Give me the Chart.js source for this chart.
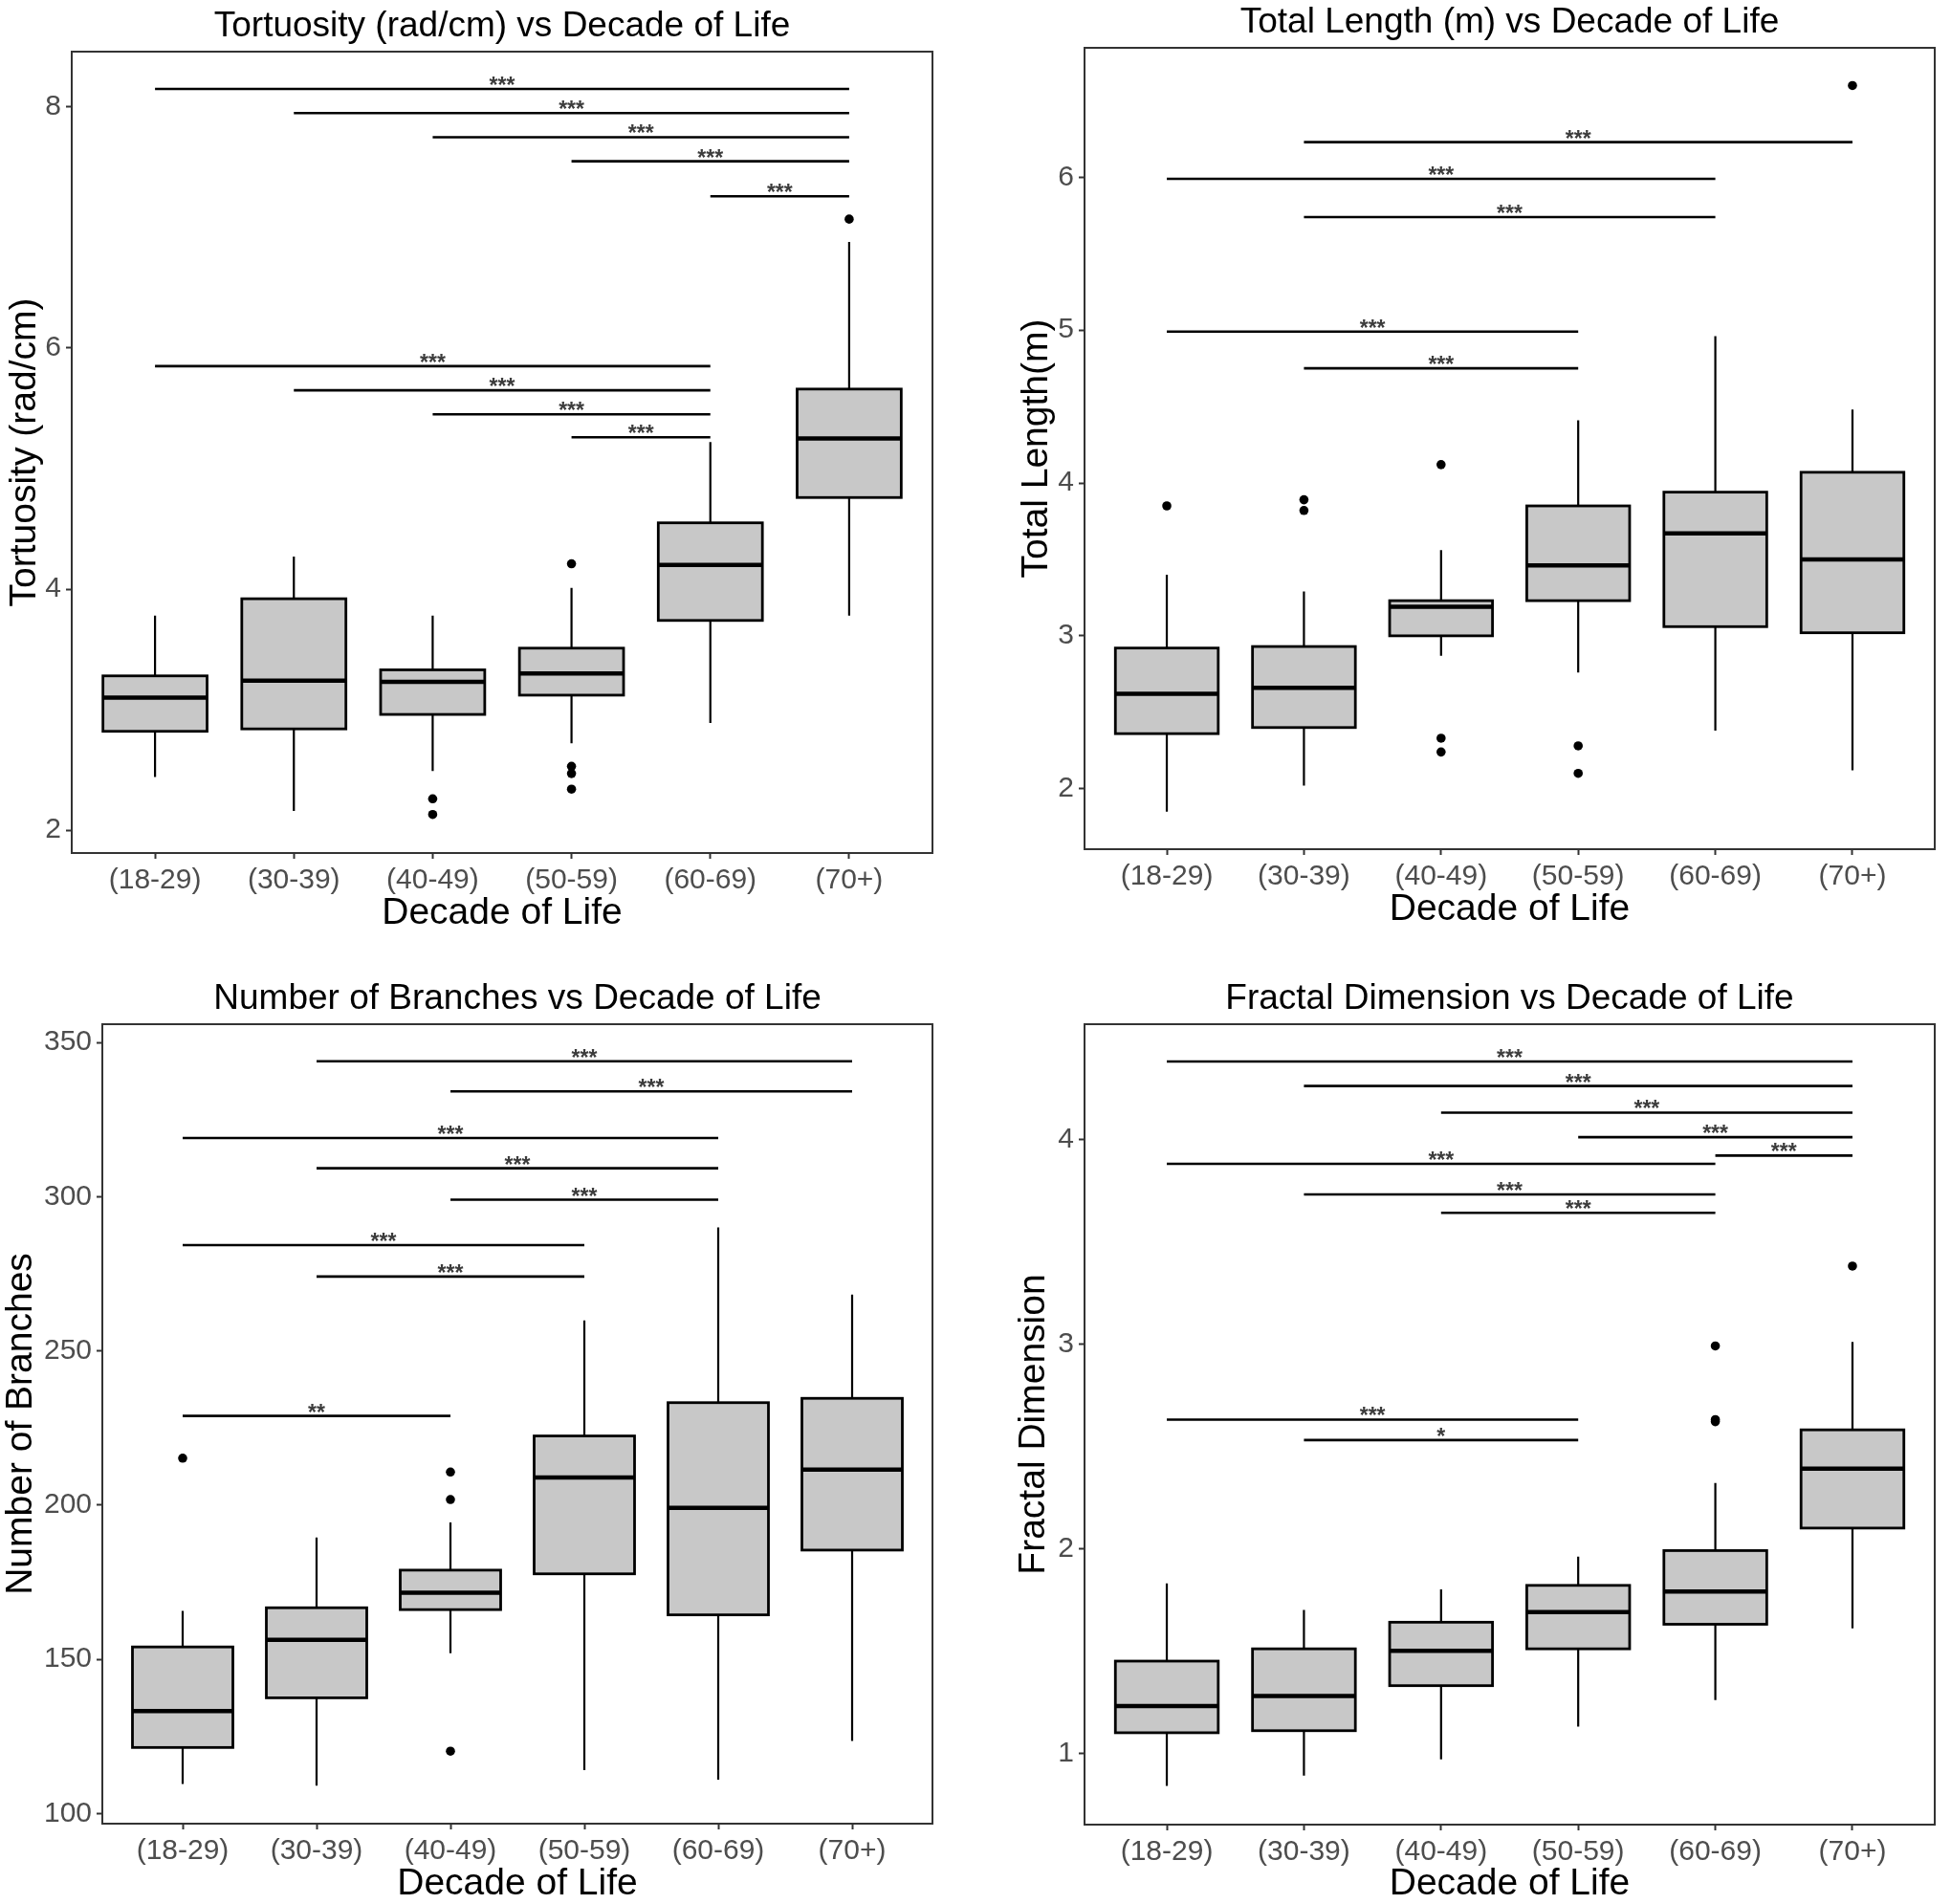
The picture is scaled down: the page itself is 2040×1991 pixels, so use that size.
<!DOCTYPE html>
<html>
<head>
<meta charset="utf-8">
<script src="https://cdn.jsdelivr.net/npm/chart.js"></script>
<style>
  html, body { margin: 0; padding: 0; background: #fff; }
  body { width: 2040px; height: 1991px; position: relative; overflow: hidden; }
  canvas { position: absolute; }
</style>
</head>
<body>
<canvas id="tort"></canvas>
<canvas id="len"></canvas>
<canvas id="branch"></canvas>
<canvas id="fractal"></canvas>
<script>
const decades = ['(18-29)', '(30-39)', '(40-49)', '(50-59)', '(60-69)', '(70+)'];

// Tortuosity (rad/cm)
const tortLow = [2.44, 2.16, 2.49, 2.72, 2.89, 3.78];
const tortQ1 = [2.82, 2.84, 2.96, 3.12, 3.74, 4.76];
const tortMed = [3.10, 3.24, 3.23, 3.30, 4.20, 5.25];
const tortQ3 = [3.28, 3.92, 3.33, 3.51, 4.55, 5.66];
const tortHigh = [3.78, 4.27, 3.78, 4.01, 5.22, 6.88];
const tortOut = [[], [], [2.26, 2.13], [4.21, 2.53, 2.47, 2.34], [], [7.07]];
const tortTicks = [2, 4, 6, 8];
const tortSig = [[0, 5, 8.15, '***'], [1, 5, 7.95, '***'], [2, 5, 7.75, '***'], [3, 5, 7.55, '***'], [4, 5, 7.26, '***'],
                 [0, 4, 5.85, '***'], [1, 4, 5.65, '***'], [2, 4, 5.45, '***'], [3, 4, 5.26, '***']];

// Total length (m)
const lenLow = [1.85, 2.02, 2.87, 2.76, 2.38, 2.12];
const lenQ1 = [2.36, 2.40, 3.00, 3.23, 3.06, 3.02];
const lenMed = [2.62, 2.66, 3.19, 3.46, 3.67, 3.50];
const lenQ3 = [2.92, 2.93, 3.23, 3.85, 3.94, 4.07];
const lenHigh = [3.40, 3.29, 3.56, 4.41, 4.96, 4.48];
const lenOut = [[3.85], [3.89, 3.82], [4.12, 2.33, 2.24], [2.28, 2.10], [], [6.60]];
const lenTicks = [2, 3, 4, 5, 6];
const lenSig = [[1, 5, 6.23, '***'], [0, 4, 5.99, '***'], [1, 4, 5.74, '***'], [0, 3, 4.99, '***'], [1, 3, 4.75, '***']];

// Number of branches
const brLow = [109.6, 109.0, 152.0, 114.1, 111.0, 123.5];
const brQ1 = [121.4, 137.5, 166.1, 177.7, 164.4, 185.4];
const brMed = [133.2, 156.3, 171.6, 208.9, 199.1, 211.5];
const brQ3 = [154.0, 166.7, 178.9, 222.4, 233.2, 234.6];
const brHigh = [165.7, 189.5, 194.4, 259.9, 290.0, 268.2];
const brOut = [[215.2], [], [210.7, 201.8, 120.2], [], [], []];
const brTicks = [100, 150, 200, 250, 300, 350];
const brSig = [[1, 5, 343.9, '***'], [2, 5, 334.1, '***'], [0, 4, 319.0, '***'], [1, 4, 309.2, '***'], [2, 4, 299.0, '***'],
               [0, 3, 284.3, '***'], [1, 3, 274.1, '***'], [0, 2, 228.9, '**']];

// Fractal dimension
const fdLow = [0.84, 0.89, 0.97, 1.13, 1.26, 1.61];
const fdQ1 = [1.10, 1.11, 1.33, 1.51, 1.63, 2.10];
const fdMed = [1.23, 1.28, 1.50, 1.69, 1.79, 2.39];
const fdQ3 = [1.45, 1.51, 1.64, 1.82, 1.99, 2.58];
const fdHigh = [1.83, 1.70, 1.80, 1.96, 2.32, 3.01];
const fdOut = [[], [], [], [], [2.99, 2.63, 2.62], [3.38]];
const fdTicks = [1, 2, 3, 4];
const fdSig = [[0, 5, 4.38, '***'], [1, 5, 4.26, '***'], [2, 5, 4.13, '***'], [3, 5, 4.01, '***'], [4, 5, 3.92, '***'],
               [0, 4, 3.88, '***'], [1, 4, 3.73, '***'], [2, 4, 3.64, '***'], [0, 3, 2.63, '***'], [1, 3, 2.53, '*']];

const FONT = "'Liberation Sans', Arial, sans-serif";

// draws the boxes, significance bars, frame and title using the chart's scales
const boxPlugin = {
    id: 'boxplot',
    beforeDatasetsDraw(chart) {
        const o = chart.options.plugins.boxplot;
        const xs = chart.scales.x, ys = chart.scales.y;
        const ctx = chart.ctx;
        const half = xs.getPixelForValue(0.375) - xs.getPixelForValue(0);
        ctx.save();
        for (let i = 0; i < o.median.length; i++) {
            const x = xs.getPixelForValue(i);
            const yLow = ys.getPixelForValue(o.low[i]);
            const yQ1 = ys.getPixelForValue(o.q1[i]);
            const yMed = ys.getPixelForValue(o.median[i]);
            const yQ3 = ys.getPixelForValue(o.q3[i]);
            const yHigh = ys.getPixelForValue(o.high[i]);
            ctx.strokeStyle = '#000';
            ctx.lineWidth = 2.2;
            ctx.beginPath();
            ctx.moveTo(x, yHigh); ctx.lineTo(x, yQ3);
            ctx.moveTo(x, yQ1); ctx.lineTo(x, yLow);
            ctx.stroke();
            ctx.fillStyle = '#c8c8c8';
            ctx.fillRect(x - half, yQ3, half * 2, yQ1 - yQ3);
            ctx.lineWidth = 2.8;
            ctx.strokeRect(x - half, yQ3, half * 2, yQ1 - yQ3);
            ctx.lineWidth = 4.5;
            ctx.beginPath();
            ctx.moveTo(x - half, yMed); ctx.lineTo(x + half, yMed);
            ctx.stroke();
        }
        ctx.restore();
    },
    afterDatasetsDraw(chart) {
        const o = chart.options.plugins.boxplot;
        const xs = chart.scales.x, ys = chart.scales.y;
        const ctx = chart.ctx;
        const a = chart.chartArea;
        ctx.save();
        ctx.strokeStyle = '#000';
        ctx.lineWidth = 2.6;
        ctx.fillStyle = '#3c3c3c';
        ctx.font = 'bold 23px ' + FONT;
        ctx.textAlign = 'center';
        ctx.textBaseline = 'alphabetic';
        o.sig.forEach(([from, to, v, label]) => {
            const x1 = xs.getPixelForValue(from), x2 = xs.getPixelForValue(to);
            const y = ys.getPixelForValue(v);
            ctx.beginPath();
            ctx.moveTo(x1, y); ctx.lineTo(x2, y);
            ctx.stroke();
            ctx.fillText(label, (x1 + x2) / 2, y + 4);
        });
        ctx.strokeStyle = '#333';
        ctx.lineWidth = 2;
        ctx.strokeRect(a.left, a.top, a.right - a.left, a.bottom - a.top);
        ctx.fillStyle = '#000';
        ctx.font = '37px ' + FONT;
        ctx.textBaseline = 'alphabetic';
        ctx.fillText(o.title, (a.left + a.right) / 2, a.top - 16);
        ctx.restore();
    }
};

function makePanel(id, p) {
    const canvas = document.getElementById(id);
    canvas.width = p.w;
    canvas.height = p.h;
    canvas.style.left = p.x + 'px';
    canvas.style.top = p.y + 'px';
    const points = [];
    p.out.forEach((vals, i) => vals.forEach(v => points.push({ x: i, y: v })));
    new Chart(canvas, {
        type: 'scatter',
        data: {
            datasets: [{
                data: points,
                pointRadius: 4.8,
                pointHoverRadius: 4.8,
                backgroundColor: '#000',
                borderWidth: 0
            }]
        },
        options: {
            responsive: false,
            animation: false,
            layout: { padding: { left: 0, top: p.frame.t - p.y, right: p.x + p.w - p.frame.r, bottom: 0 } },
            plugins: {
                legend: { display: false },
                tooltip: { enabled: false },
                boxplot: {
                    title: p.title, low: p.low, q1: p.q1, median: p.med, q3: p.q3, high: p.high, sig: p.sig
                }
            },
            scales: {
                x: {
                    type: 'linear',
                    min: -0.6,
                    max: 5.6,
                    afterBuildTicks: s => { s.ticks = decades.map((d, i) => ({ value: i })); },
                    afterFit: s => { s.height = p.y + p.h - p.frame.b; },
                    ticks: { callback: v => decades[v], color: '#4d4d4d', font: { family: FONT, size: 30 }, padding: 5, maxRotation: 0, autoSkip: false },
                    grid: { drawOnChartArea: false, drawTicks: true, tickLength: 6, tickWidth: 2, tickColor: '#333' },
                    border: { display: false },
                    title: { display: true, text: 'Decade of Life', color: '#000', font: { family: FONT, size: 39, lineHeight: 1 }, padding: { top: 0, bottom: 1 } }
                },
                y: {
                    type: 'linear',
                    min: p.range[0],
                    max: p.range[1],
                    afterBuildTicks: s => { s.ticks = p.ticks.map(v => ({ value: v })); },
                    afterFit: s => { s.width = p.frame.l - p.x; },
                    ticks: { color: '#4d4d4d', font: { family: FONT, size: 30 }, padding: 5 },
                    grid: { drawOnChartArea: false, drawTicks: true, tickLength: 6, tickWidth: 2, tickColor: '#333' },
                    border: { display: false },
                    title: { display: true, text: p.ytitle, color: '#000', font: { family: FONT, size: 39, lineHeight: 1 }, padding: { top: p.ytx - p.x - 19.5, bottom: 0 } }
                }
            }
        },
        plugins: [boxPlugin]
    });
}

makePanel('tort', {
    x: 0, y: 0, w: 1020, h: 976, frame: { l: 75, t: 54, r: 975, b: 892 }, ytx: 26,
    title: 'Tortuosity (rad/cm) vs Decade of Life', ytitle: 'Tortuosity (rad/cm)',
    range: [1.81, 8.46], ticks: tortTicks,
    low: tortLow, q1: tortQ1, med: tortMed, q3: tortQ3, high: tortHigh, out: tortOut, sig: tortSig
});

makePanel('len', {
    x: 1030, y: 0, w: 1010, h: 972, frame: { l: 1134, t: 50, r: 2023, b: 888 }, ytx: 1084,
    title: 'Total Length (m) vs Decade of Life', ytitle: 'Total Length(m)',
    range: [1.604, 6.847], ticks: lenTicks,
    low: lenLow, q1: lenQ1, med: lenMed, q3: lenQ3, high: lenHigh, out: lenOut, sig: lenSig
});

makePanel('branch', {
    x: 0, y: 1000, w: 1020, h: 991, frame: { l: 107, t: 1071, r: 975, b: 1907 }, ytx: 22,
    title: 'Number of Branches vs Decade of Life', ytitle: 'Number of Branches',
    range: [96.7, 355.9], ticks: brTicks,
    low: brLow, q1: brQ1, med: brMed, q3: brQ3, high: brHigh, out: brOut, sig: brSig
});

makePanel('fractal', {
    x: 1030, y: 1000, w: 1010, h: 991, frame: { l: 1134, t: 1071, r: 2023, b: 1908 }, ytx: 1081,
    title: 'Fractal Dimension vs Decade of Life', ytitle: 'Fractal Dimension',
    range: [0.651, 4.562], ticks: fdTicks,
    low: fdLow, q1: fdQ1, med: fdMed, q3: fdQ3, high: fdHigh, out: fdOut, sig: fdSig
});
</script>
</body>
</html>
